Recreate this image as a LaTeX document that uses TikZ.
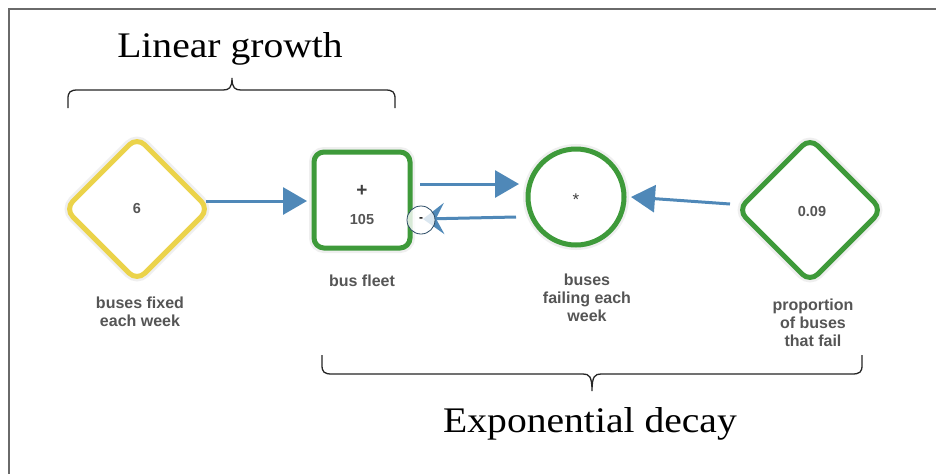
\documentclass[tikz,border=0pt]{standalone}
\usepackage{fontspec}
\setmainfont{Liberation Serif}
\newfontfamily\labelfont{Liberation Sans}
\usetikzlibrary{shapes.geometric,arrows.meta,calc}

\definecolor{flowblue}{HTML}{4F88B8}
\definecolor{stockgreen}{HTML}{3E9A3A}
\definecolor{paramyellow}{HTML}{EBD34A}
\definecolor{labelgray}{HTML}{555555}
\definecolor{framegray}{HTML}{6A6A6A}

\tikzset{
  halo/.style={preaction={draw=black!40, line width=10pt, opacity=0.15}},
  paramshape/.style={diamond, aspect=1, minimum size=146pt, rounded corners=11pt,
    line width=5pt, fill=white, inner sep=0pt, halo},
  stockshape/.style={rectangle, minimum size=96pt, rounded corners=10pt,
    line width=5pt, fill=white, inner sep=0pt, halo},
  ratioshape/.style={circle, minimum size=96pt, line width=5pt, fill=white,
    inner sep=0pt, halo},
  value/.style={text=labelgray, font=\labelfont\bfseries\fontsize{14.5}{16}\selectfont},
  caption/.style={text=labelgray, align=center,
    font=\labelfont\bfseries\fontsize{16}{18}\selectfont},
  flow/.style={draw=flowblue, line width=3pt,
    -{Triangle[length=24pt, width=27pt]}},
  backflow/.style={draw=flowblue, line width=3pt,
    -{Stealth[length=21pt, width=31pt, inset=8pt]}},
  bigtitle/.style={font=\fontsize{36}{40}\selectfont, text=black},
  bracepath/.style={draw=black!85, line width=1.3pt}
}

\begin{document}
\begin{tikzpicture}[x=1pt, y=-1pt]
  \useasboundingbox (0,0) rectangle (936,474);
  \fill[white] (0,0) rectangle (936,474);

  % frame edges
  \draw[framegray, line width=2pt] (936,9) -- (9,9) -- (9,474);

  % model elements
  \node[paramshape, draw=paramyellow] (fixed) at (137,209) {};
  \node[value] at (fixed.center) {6};
  \node[caption] (fixedlbl) at (140,312) {buses fixed\\each week};

  \node[stockshape, draw=stockgreen] (fleet) at (362,200) {};
  \node[font=\labelfont\bfseries\fontsize{19}{19}\selectfont, text=black!75] (plus) at (362,191) {+};
  \node[value] (fleetval) at (362,220) {105};
  \node[caption] (fleetlbl) at (362,281) {bus fleet};

  \node[ratioshape, draw=stockgreen] (fail) at (576,197) {};
  \node[font=\labelfont\fontsize{17}{17}\selectfont, text=black!75] (star) at (576,200) {*};
  \node[caption] (faillbl) at (587,298) {buses\\failing each\\week};

  \node[paramshape, draw=stockgreen] (prop) at (810,210) {};
  \node[value] at (812,212) {0.09};
  \node[caption] (proplbl) at (813,323) {proportion\\of buses\\that fail};

  % flows between the elements
  \coordinate (fixedout) at (206,201);
  \coordinate (fleetin) at (307,201);
  \draw[flow] (fixedout) -- (fleetin);

  \coordinate (fleetout) at (420,184);
  \coordinate (failin) at (519,184);
  \draw[flow] (fleetout) -- (failin);

  \coordinate (failout) at (516,217);
  \coordinate (fleetback) at (423,219);
  \draw[backflow] (failout) -- (fleetback);

  \coordinate (propout) at (730,204);
  \coordinate (failright) at (631,197);
  \draw[flow] (propout) -- (failright);

  % negative link marker
  \node[circle, draw=flowblue!55!black, line width=0.8pt, fill=white, fill opacity=0.8,
        text opacity=1, minimum size=28pt, inner sep=0pt] (minus) at (421,220)
        {\labelfont\bfseries\fontsize{12}{12}\selectfont -};

  % braces
  \coordinate (lgL) at (68,108);
  \coordinate (lgTip) at (232,78);
  \coordinate (lgR) at (395,108);
  \draw[bracepath] (lgL) -- (68,99) .. controls (68,92) and (70,90) .. (78,90)
    -- (223,90) .. controls (229,90) and (232,88) .. (lgTip)
    .. controls (232,88) and (235,90) .. (241,90)
    -- (385,90) .. controls (393,90) and (395,92) .. (395,99) -- (lgR);

  \coordinate (edL) at (322,355);
  \coordinate (edTip) at (592,391);
  \coordinate (edR) at (862,355);
  \draw[bracepath] (edL) -- (322,365) .. controls (322,372) and (324,374) .. (332,374)
    -- (583,374) .. controls (589,374) and (592,376) .. (edTip)
    .. controls (592,376) and (595,374) .. (601,374)
    -- (852,374) .. controls (860,374) and (862,372) .. (862,365) -- (edR);

  % group titles
  \node[bigtitle] (lintitle) at (230,49) {\scalebox{1.1}[1]{Linear growth}};
  \node[bigtitle] (exptitle) at (590,424) {\scalebox{1.1}[1]{Exponential decay}};
\end{tikzpicture}
\end{document}
